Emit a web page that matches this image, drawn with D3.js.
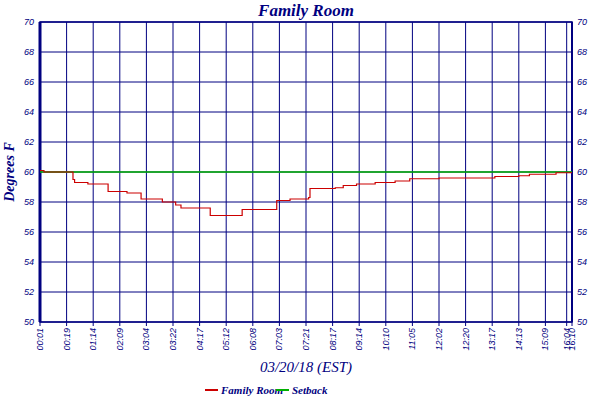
<!DOCTYPE html>
<html><head><meta charset="utf-8">
<script src="https://cdn.jsdelivr.net/npm/d3@7"></script>
<style>body{margin:0;background:#fff}</style></head>
<body><svg id="c" width="600" height="400"></svg>
<script>
const tickLabels = ["00:01","00:19","01:14","02:09","03:04","03:22","04:17","05:12","06:08","07:03","07:21","08:17","09:14","10:10","11:05","12:02","12:20","13:17","14:13","15:09","16:04","16:10"];
const tickSamples = [0,10,20,30,40,50,60,70,80,90,100,110,120,130,140,150,160,170,180,190,198,200];
const stepSamples = [0,1.5,12.4,13,18,25.6,32.7,38,46,51,53,64,76,86.5,89,94,101,101.5,111,114,119,126,133.5,139,150,162,171,180,184,194,200];
const stepTemps   = [60.1,60.0,59.5,59.3,59.2,58.7,58.6,58.2,58.0,57.8,57.6,57.1,57.5,57.5,58.1,58.2,58.3,58.9,58.95,59.1,59.2,59.3,59.4,59.55,59.6,59.6,59.7,59.75,59.85,59.95,59.95];
const setback = 60;
const yTicks = [50,52,54,56,58,60,62,64,66,68,70];

const svg = d3.select("#c");
const L=40,R=572,T=22,B=322;
const x = d3.scaleLinear().domain([0,200]).range([L,R]);
const y = d3.scaleLinear().domain([50,70]).range([B,T]);
const navy="#000080";

svg.append("g").selectAll("line").data(yTicks).join("line")
 .attr("x1",L).attr("x2",R).attr("y1",d=>y(d)).attr("y2",d=>y(d)).attr("stroke",navy).attr("stroke-width",1);
svg.append("g").selectAll("line").data(tickSamples).join("line")
 .attr("x1",d=>x(d)).attr("x2",d=>x(d)).attr("y1",T).attr("y2",B+4).attr("stroke",navy).attr("stroke-width",1);
svg.append("rect").attr("x",L).attr("y",T).attr("width",R-L).attr("height",B-T).attr("fill","none").attr("stroke",navy).attr("stroke-width",1.5);
svg.append("line").attr("x1",L).attr("x2",L).attr("y1",T).attr("y2",B).attr("stroke",navy).attr("stroke-width",3);
svg.append("line").attr("x1",R).attr("x2",R).attr("y1",T).attr("y2",B).attr("stroke",navy).attr("stroke-width",2);

const f="'Liberation Sans', Arial, sans-serif";
svg.append("g").selectAll("text").data(yTicks).join("text")
 .attr("x",L-6).attr("y",d=>y(d)+3).attr("text-anchor","end").attr("font-family",f).attr("font-size",9).attr("font-style","italic").attr("fill",navy).text(d=>d);
svg.append("g").selectAll("text").data(yTicks).join("text")
 .attr("x",R+5).attr("y",d=>y(d)+3).attr("text-anchor","start").attr("font-family",f).attr("font-size",9).attr("font-style","italic").attr("fill",navy).text(d=>d);
svg.append("g").selectAll("text").data(tickSamples).join("text")
 .attr("transform",(d,i)=>`translate(${x(d)+3},${B+6}) rotate(-90)`).attr("text-anchor","end")
 .attr("font-family",f).attr("font-size",9).attr("font-style","italic").attr("fill",navy).text((d,i)=>tickLabels[i]);

svg.append("line").attr("x1",L).attr("x2",R).attr("y1",y(setback)).attr("y2",y(setback)).attr("stroke","#00b000").attr("stroke-width",1.5);
const line=d3.line().x(d=>x(d[0])).y(d=>y(d[1])).curve(d3.curveStepAfter);
svg.append("path").datum(stepSamples.map((s,i)=>[s,stepTemps[i]])).attr("d",line).attr("fill","none").attr("stroke","#cc0000").attr("stroke-width",1.2);

const tf="'Liberation Serif', serif";
svg.append("text").attr("x",306).attr("y",16).attr("text-anchor","middle").attr("font-family",tf).attr("font-style","italic").attr("font-weight","bold").attr("font-size",17).attr("fill",navy).text("Family Room");
svg.append("text").attr("transform","translate(14,172) rotate(-90)").attr("text-anchor","middle").attr("font-family",tf).attr("font-style","italic").attr("font-weight","bold").attr("font-size",14).attr("fill",navy).text("Degrees F");
svg.append("text").attr("x",306).attr("y",372).attr("text-anchor","middle").attr("font-family",tf).attr("font-style","italic").attr("font-size",15).attr("fill",navy).text("03/20/18 (EST)");
const lg=[["Family Room","#cc0000",205],["Setback","#00b000",276]];
lg.forEach(([t,c,lx])=>{
 svg.append("line").attr("x1",lx).attr("x2",lx+13).attr("y1",390).attr("y2",390).attr("stroke",c).attr("stroke-width",2);
 svg.append("text").attr("x",lx+16).attr("y",394).attr("font-family",tf).attr("font-style","italic").attr("font-weight","bold").attr("font-size",11).attr("fill",navy).text(t);
});
</script></body></html>
